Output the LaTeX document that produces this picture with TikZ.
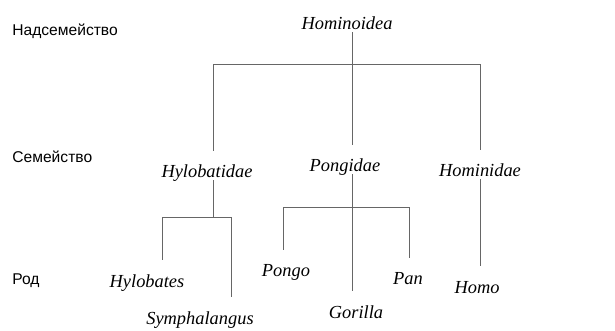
\documentclass[tikz,border=0pt]{standalone}
\usepackage{fontspec}
\setmainfont{Liberation Serif}
\newfontfamily\ranksf{Liberation Sans}
\usepackage{tikz}
\usetikzlibrary{calc}

\begin{document}
\begin{tikzpicture}[
    x=0.5pt, y=-0.5pt,
    taxon/.style={font=\fontsize{9.2}{10}\selectfont\itshape, anchor=base,
                  text height=12.5pt, text depth=0pt, inner xsep=1pt, inner ysep=1pt},
    rank/.style={font=\ranksf\fontsize{7.8}{9}\selectfont, anchor=base west, inner sep=0pt},
    link/.style={draw=black!60, line width=0.5pt},
]
\useasboundingbox (0,0) rectangle (615,331);

% Rank labels
\node[rank] (super) at (12,36) {Надсемейство};
\node[rank] (family) at (12,163) {Семейство};
\node[rank] (genus) at (12,285) {Род};

% Superfamily and families
\node[taxon] (hominoidea) at (347,30) {Hominoidea};
\node[taxon] (hylobatidae) at (207,178) {Hylobatidae};
\node[taxon] (pongidae) at (345,172) {Pongidae};
\node[taxon] (hominidae) at (480,177) {Hominidae};

% Genera
\node[taxon] (hylobates) at (147,287) {Hylobates};
\node[taxon] (symphalangus) at (200,324) {Symphalangus};
\node[taxon] (pongo) at (286,277) {Pongo};
\node[taxon] (pan) at (408,285) {Pan};
\node[taxon] (gorilla) at (356,318) {Gorilla};
\node[taxon] (homo) at (477,293) {Homo};

% Junctions
\coordinate (hub) at (352,65);
\coordinate (hylo-hub) at (213,218);
\coordinate (hylo-l) at (162,218);
\coordinate (hylo-r) at (231,218);
\coordinate (pong-l) at (283,208);
\coordinate (pong-r) at (409,208);

% Connections
\draw[link] (hub |- hominoidea.south) -- (hub |- pongidae.north);
\draw[link] (hylo-hub |- hylobatidae.north) |- (hominidae.north |- hub) -- (hominidae.north);
\draw[link] (hylo-hub |- hylobatidae.south) -- (hylo-hub);
\draw[link] (hylo-l |- hylobates.north) -- (hylo-l) -- (hylo-r) -- (hylo-r |- symphalangus.north);
\draw[link] (hub |- pongidae.south) -- (hub |- gorilla.north);
\draw[link] (pong-l |- pongo.north) -- (pong-l) -- (pong-r) -- (pong-r |- pan.north);
\draw[link] (hominidae.south) -- (hominidae.south |- homo.north);

\end{tikzpicture}
\end{document}
